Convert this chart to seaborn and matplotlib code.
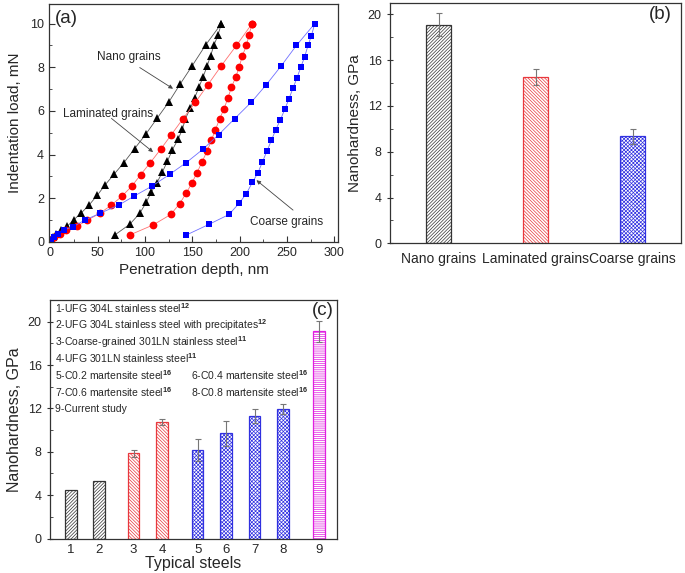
import matplotlib
matplotlib.use("Agg")
import matplotlib.pyplot as plt
import seaborn as sns
import pandas as pd
from matplotlib.ticker import MultipleLocator

# ---------------- data ----------------
# panel (a): load-displacement curves (depth nm, load mN)
nano_load_depth = [0.5, 3, 6.3, 11.6, 18, 25, 32.8, 40.8, 49.7, 58.1, 67.2, 77.8, 89.1, 100.7, 113, 125, 137.4, 150, 164.2, 180.7]
nano_load_force = [0.1, 0.23, 0.38, 0.55, 0.73, 1.03, 1.34, 1.69, 2.15, 2.63, 3.1, 3.64, 4.28, 4.93, 5.68, 6.4, 7.25, 8.08, 9.03, 10.0]
nano_unload_depth = [180.7, 177.2, 173, 169.4, 165.6, 161.3, 157.1, 152.5, 148, 142.7, 139.5, 134.9, 129, 123.7, 118.4, 112.7, 106.8, 101.5, 94.4, 83.8, 68]
nano_unload_force = [10.0, 9.48, 9.03, 8.54, 8.05, 7.55, 7.1, 6.6, 6.13, 5.65, 5.16, 4.7, 4.23, 3.7, 3.21, 2.72, 2.3, 1.83, 1.31, 0.81, 0.32]

lam_load_depth = [0.5, 4, 9.8, 16.9, 28.5, 39.1, 52.1, 64.5, 75.7, 86.3, 95.5, 105.7, 116.6, 127.9, 140.2, 153.3, 166.6, 180.8, 196.6, 213.1]
lam_load_force = [0.1, 0.23, 0.38, 0.55, 0.73, 1.0, 1.31, 1.69, 2.1, 2.57, 3.09, 3.64, 4.25, 4.92, 5.65, 6.4, 7.21, 8.08, 9.0, 10.0]
lam_unload_depth = [213.1, 210, 207.2, 203, 199.4, 195.9, 191.3, 187.7, 183.5, 179, 174.4, 170.2, 165.6, 160.3, 155, 149.7, 143.7, 136.7, 127.2, 108.5, 83.8]
lam_unload_force = [10.0, 9.5, 9.0, 8.54, 8.0, 7.55, 7.08, 6.6, 6.1, 5.65, 5.14, 4.66, 4.16, 3.67, 3.18, 2.71, 2.25, 1.76, 1.26, 0.78, 0.32]

coarse_load_depth = [0.5, 3.5, 7.5, 14, 23.9, 36.3, 52.1, 72.2, 88.4, 107.4, 126.1, 143.7, 161.3, 177.9, 194.8, 212.5, 228.3, 244.2, 260, 279.4]
coarse_load_force = [0.1, 0.23, 0.38, 0.55, 0.7, 1.0, 1.31, 1.69, 2.1, 2.56, 3.1, 3.64, 4.25, 4.92, 5.65, 6.41, 7.21, 8.08, 9.0, 10.0]
coarse_unload_depth = [279.4, 275.9, 272.3, 268.8, 264.6, 260.7, 256.5, 252.2, 247.7, 243.1, 238.2, 233.6, 229, 224.1, 219.5, 213.5, 207.2, 199.4, 188.8, 167.7, 143.7]
coarse_unload_force = [10.0, 9.45, 9.0, 8.49, 8.0, 7.52, 7.06, 6.56, 6.07, 5.6, 5.14, 4.66, 4.17, 3.67, 3.18, 2.73, 2.22, 1.77, 1.26, 0.81, 0.32]

# panel (b)
grain_types = ["Nano grains", "Laminated grains", "Coarse grains"]
grain_hardness = [19.1, 14.5, 9.35]
grain_error = [1.0, 0.7, 0.65]

# panel (c)
steel_ids = ["1", "2", "3", "4", "5", "6", "7", "8", "9"]
steel_hardness = [4.43, 5.26, 7.85, 10.75, 8.19, 9.72, 11.31, 11.93, 19.1]
steel_error = [0, 0, 0.3, 0.27, 1.0, 1.15, 0.65, 0.45, 1.0]
steel_notes = [
    r"1-UFG 304L stainless steel$^{\mathbf{12}}$",
    r"2-UFG 304L stainless steel with precipitates$^{\mathbf{12}}$",
    r"3-Coarse-grained 301LN stainless steel$^{\mathbf{11}}$",
    r"4-UFG 301LN stainless steel$^{\mathbf{11}}$",
    r"5-C0.2 martensite steel$^{\mathbf{16}}$",
    r"6-C0.4 martensite steel$^{\mathbf{16}}$",
    r"7-C0.6 martensite steel$^{\mathbf{16}}$",
    r"8-C0.8 martensite steel$^{\mathbf{16}}$",
    "9-Current study",
]

# ---------------- style ----------------
sns.set_style("ticks")
plt.rcParams["font.family"] = ["Liberation Sans", "DejaVu Sans"]
plt.rcParams["mathtext.fontset"] = "custom"
plt.rcParams["mathtext.rm"] = "Liberation Sans"
plt.rcParams["mathtext.bf"] = "Liberation Sans:bold"
plt.rcParams["hatch.linewidth"] = 0.5
spine_col = "#333333"

fig = plt.figure(figsize=(6.85, 5.73), dpi=100)
W, H = 685, 573
def box(l, t, r, b):
    return [l / W, 1 - b / H, (r - l) / W, (b - t) / H]

axa = fig.add_axes(box(49, 4, 338, 242))
axb = fig.add_axes(box(390, 3, 681, 243.3))
axc = fig.add_axes(box(50, 300, 337, 538.5))

for ax in (axa, axb, axc):
    for s in ax.spines.values():
        s.set_color(spine_col)
        s.set_linewidth(0.9)

# ---------------- panel (a) ----------------
curves = [
    (nano_load_depth, nano_load_force, "^", "black", "#555555"),
    (nano_unload_depth, nano_unload_force, "^", "black", "#555555"),
    (lam_load_depth, lam_load_force, "o", "#ff0000", "#ff7070"),
    (lam_unload_depth, lam_unload_force, "o", "#ff0000", "#ff7070"),
    (coarse_load_depth, coarse_load_force, "s", "#0000ff", "#7070ff"),
    (coarse_unload_depth, coarse_unload_force, "s", "#0000ff", "#7070ff"),
]
for d, f, m, mc, lc in curves:
    sns.lineplot(x=d, y=f, sort=False, estimator=None, marker=m, color=mc,
                 markersize=5.6 if m != "s" else 5.0, markeredgewidth=0, linewidth=0.6, ax=axa)
    ln = axa.lines[-1]
    ln.set_color(lc)
    ln.set_markerfacecolor(mc)
    ln.set_markeredgecolor(mc)

axa.set_xlim(-1.5, 304)
axa.set_ylim(0, 10.9)
axa.xaxis.set_major_locator(MultipleLocator(50))
axa.xaxis.set_minor_locator(MultipleLocator(25))
axa.yaxis.set_major_locator(MultipleLocator(2))
axa.yaxis.set_minor_locator(MultipleLocator(1))
axa.tick_params(which="both", direction="in", color=spine_col, labelsize=9)
axa.tick_params(which="major", length=4, width=0.8)
axa.tick_params(which="minor", length=2.2, width=0.6)
axa.set_xlabel("Penetration depth, nm", fontsize=11, labelpad=3)
axa.set_ylabel("Indentation load, mN", fontsize=11, labelpad=6)
axa.text(0.02, 0.937, "(a)", transform=axa.transAxes, fontsize=13.5, ha="left", va="center")

arrow = dict(arrowstyle="-|>", lw=0.6, color="#444444", mutation_scale=6, shrinkA=0, shrinkB=0)
axa.text(82.8, 8.45, "Nano grains", fontsize=8.5, ha="center", va="center")
axa.annotate("", xy=(129.6, 7.02), xytext=(94.4, 7.99), arrowprops=arrow)
axa.text(60.6, 5.84, "Laminated grains", fontsize=8.5, ha="center", va="center")
axa.annotate("", xy=(108.5, 4.12), xytext=(64.5, 5.66), arrowprops=arrow)
axa.text(249.5, 0.93, "Coarse grains", fontsize=8.5, ha="center", va="center")
axa.annotate("", xy=(217.8, 2.83), xytext=(256.5, 1.46), arrowprops=arrow)

# ---------------- panel (b) ----------------
b_colors = ["#333333", "#e8383d", "#3030e0"]
b_hatch = ["//////////", "\\\\\\\\\\\\\\\\\\\\", "xxxxxxxxx"]
sns.barplot(x=grain_types, y=grain_hardness, hue=grain_types, palette=b_colors,
            width=0.26, legend=False, ax=axb)
for p, c, h in zip(axb.patches, b_colors, b_hatch):
    p.set_facecolor("white")
    p.set_edgecolor(c)
    p.set_hatch(h)
    p.set_linewidth(0.9)
axb.errorbar(range(len(grain_types)), grain_hardness, yerr=grain_error, fmt="none",
             ecolor="#777777", elinewidth=0.8, capsize=2.5, capthick=0.8)
axb.set_xlim(-0.5, 2.5)
axb.set_ylim(0, 21)
axb.yaxis.set_major_locator(MultipleLocator(4))
axb.yaxis.set_minor_locator(MultipleLocator(2))
axb.tick_params(axis="x", length=0, labelsize=10, pad=6)
axb.tick_params(axis="y", which="major", direction="inout", length=5, width=0.8, color=spine_col, labelsize=9)
axb.tick_params(axis="y", which="minor", direction="in", length=2.5, width=0.6, color=spine_col)
axb.set_xlabel("")
axb.set_ylabel("Nanohardness, GPa", fontsize=11, labelpad=4)
axb.text(0.968, 0.951, "(b)", transform=axb.transAxes, fontsize=13.5, ha="right", va="center")

# ---------------- panel (c) ----------------
slots = [1, 2, 3.2, 4.2, 5.45, 6.45, 7.45, 8.45, 9.7]
c_colors = ["#333333", "#333333", "#e8383d", "#e8383d", "#3030e0", "#3030e0", "#3030e0", "#3030e0", "#e020e0"]
c_hatch = ["//////////", "//////////", "\\\\\\\\\\\\\\\\\\\\", "\\\\\\\\\\\\\\\\\\\\",
           "xxxxxxxxx", "xxxxxxxxx", "xxxxxxxxx", "xxxxxxxxx", "--------"]
dfc = pd.DataFrame({"slot": slots, "steel": steel_ids, "hardness": steel_hardness})
sns.barplot(data=dfc, x="slot", y="hardness", hue="steel", palette=c_colors,
            native_scale=True, dodge=False, width=0.41, legend=False, ax=axc)
for p, c, h in zip(axc.patches, c_colors, c_hatch):
    p.set_facecolor("white")
    p.set_edgecolor(c)
    p.set_hatch(h)
    p.set_linewidth(0.9)
for x, v, e in zip(slots, steel_hardness, steel_error):
    if e > 0:
        axc.errorbar([x], [v], yerr=[e], fmt="none", ecolor="#777777",
                     elinewidth=0.8, capsize=2.5, capthick=0.8)
axc.set_xlim(0.27, 10.34)
axc.set_ylim(0, 22)
axc.set_xticks(slots, labels=steel_ids)
axc.yaxis.set_major_locator(MultipleLocator(4))
axc.yaxis.set_minor_locator(MultipleLocator(2))
axc.tick_params(axis="x", length=0, labelsize=9.5, pad=4)
axc.tick_params(axis="y", which="major", direction="inout", length=5, width=0.8, color=spine_col, labelsize=9)
axc.tick_params(axis="y", which="minor", direction="in", length=2.5, width=0.6, color=spine_col)
axc.set_xlabel("Typical steels", fontsize=11.5, labelpad=0)
axc.set_ylabel("Nanohardness, GPa", fontsize=11.5, labelpad=4)
axc.text(0.987, 0.958, "(c)", transform=axc.transAxes, fontsize=13.5, ha="right", va="center")

col1, col2 = 0.017, 0.49
rows = [0.965, 0.895, 0.825, 0.755, 0.685, 0.615, 0.545]
note_pos = [(col1, rows[0]), (col1, rows[1]), (col1, rows[2]), (col1, rows[3]),
            (col1, rows[4]), (col2, rows[4]), (col1, rows[5]), (col2, rows[5]), (col1, rows[6])]
for (x, y), t in zip(note_pos, steel_notes):
    axc.text(x, y, t, transform=axc.transAxes, fontsize=7.5, ha="left", va="center")

fig.savefig("out.png", dpi=100)
